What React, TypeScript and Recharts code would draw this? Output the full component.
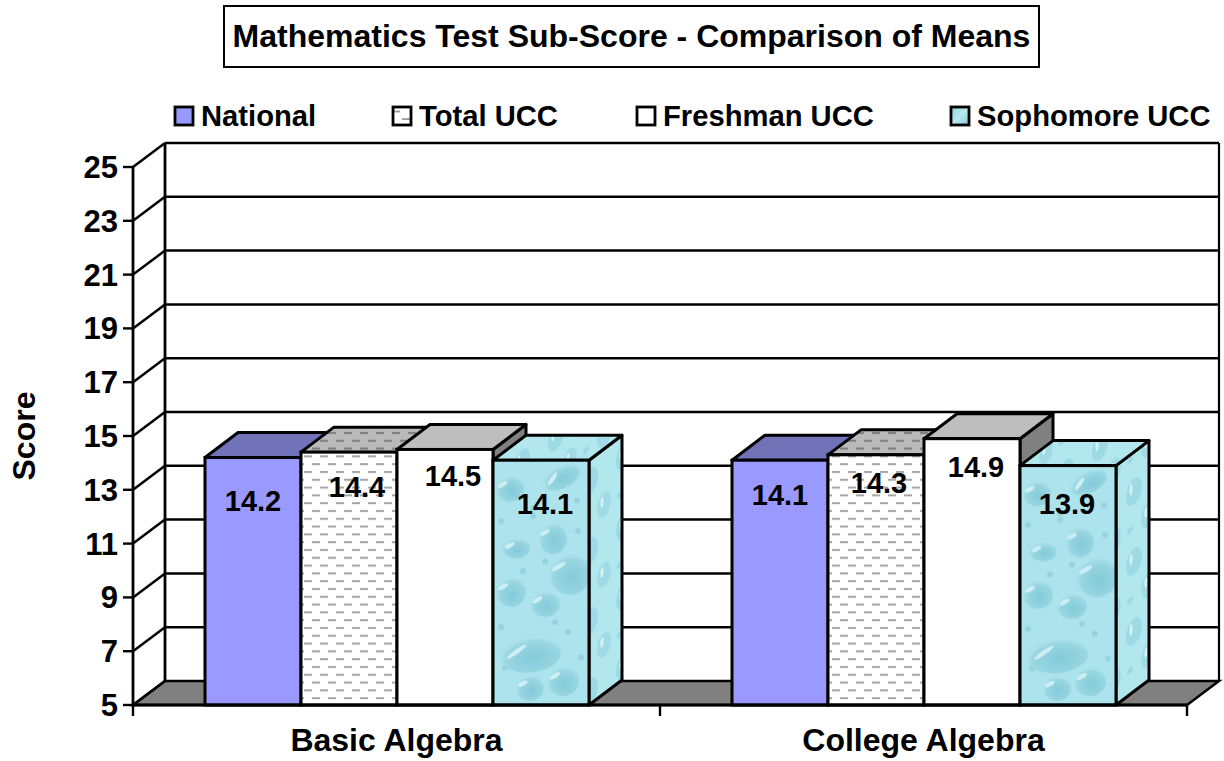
import React from 'react';
import { BarChart, Bar, XAxis, YAxis, Legend, LabelList, ReferenceArea, Label } from 'recharts';

const categories = ['Basic Algebra', 'College Algebra'];
const national = [14.2, 14.1];
const totalUcc = [14.4, 14.3];
const freshmanUcc = [14.5, 14.9];
const sophomoreUcc = [14.1, 13.9];
const yTicks = [5, 7, 9, 11, 13, 15, 17, 19, 21, 23, 25];
const chartTitle = 'Mathematics Test Sub-Score - Comparison of Means';
const data = categories.map((name, i) => ({
  name,
  National: national[i],
  'Total UCC': totalUcc[i],
  'Freshman UCC': freshmanUcc[i],
  'Sophomore UCC': sophomoreUcc[i],
}));

const FONT = '"Liberation Sans", Arial, sans-serif';
const WALL_DX = 32;
const WALL_DY = 24;
const BAR_DX = 33;
const BAR_DY = 25;

const series = [
  { key: 'National', front: '#9999FF', top: '#7272B9', side: '#7272B9', swatch: '#9999FF', nudge: [[0, 43], [0, 35]], legendX: 174, textX: 201 },
  { key: 'Total UCC', front: 'url(#dashFront)', top: 'url(#dashTop)', side: 'url(#dashTop)', swatch: 'url(#dashSwatch)', nudge: [[8, 35], [3, 28]], legendX: 392, textX: 419 },
  { key: 'Freshman UCC', front: '#FFFFFF', top: '#BEBEBE', side: '#808080', swatch: '#FFFFFF', nudge: [[8, 27], [4, 28]], legendX: 636, textX: 663 },
  { key: 'Sophomore UCC', front: 'url(#waterFront)', top: 'url(#waterSide)', side: 'url(#waterSide)', swatch: 'url(#waterSwatch)', nudge: [[4, 44], [-1, 38]], legendX: 950, textX: 977 },
];

const droplets = [
  [68, 17, 20, 11, -25], [17, 28, 14, 13, 0], [60, 77, 14, 16, 0], [23, 87, 14, 10, 0],
  [77, 112, 21, 21, 0], [18, 130, 15, 15, 0], [52, 142, 15, 13, 0], [37, 192, 31, 18, -5],
  [70, 218, 16, 15, 0], [37, 225, 14, 13, 0],
];
const specks = [[8, 60], [40, 55], [30, 110], [52, 100], [85, 70], [8, 165], [75, 170], [62, 160], [88, 195], [40, 48], [12, 205], [84, 40]];

function Defs() {
  return (
    <defs>
      <pattern id="dashFront" width="16" height="15.6" patternUnits="userSpaceOnUse">
        <rect width="16" height="15.6" fill="#FFFFFF" />
        <rect x="0" y="3" width="8" height="2" fill="#A4A4A4" />
        <rect x="8" y="10.8" width="8" height="2" fill="#A4A4A4" />
      </pattern>
      <pattern id="dashTop" width="16" height="15.6" patternUnits="userSpaceOnUse">
        <rect width="16" height="15.6" fill="#BABABA" />
        <rect x="0" y="3" width="8" height="2" fill="#7C7C7C" />
        <rect x="8" y="10.8" width="8" height="2" fill="#7C7C7C" />
      </pattern>
      <pattern id="dashSwatch" width="1" height="1" patternContentUnits="objectBoundingBox">
        <rect width="1" height="1" fill="#FFFFFF" />
        <rect x="0" y="0.2" width="0.4" height="0.1" fill="#999" />
        <rect x="0.5" y="0.62" width="0.5" height="0.1" fill="#999" />
      </pattern>
      <linearGradient id="waterSwatch" x1="0" y1="0" x2="1" y2="1">
        <stop offset="0" stopColor="#8FD2DF" />
        <stop offset="0.5" stopColor="#B8E8EE" />
        <stop offset="1" stopColor="#82CBDA" />
      </linearGradient>
      <radialGradient id="drop" cx="0.55" cy="0.6" r="0.62">
        <stop offset="0" stopColor="#84CAD9" />
        <stop offset="0.7" stopColor="#98D6E2" />
        <stop offset="1" stopColor="#B4E6EE" stopOpacity="0.2" />
      </radialGradient>
      <pattern id="waterFront" width="1" height="1" viewBox="0 0 96 242" preserveAspectRatio="none">
        <rect width="96" height="242" fill="#ACE3EC" />
        {specks.map(([x, y], i) => (
          <circle key={i} cx={x} cy={y} r={3} fill="#97D3DF" />
        ))}
        {droplets.map(([x, y, rx, ry, rot], i) => (
          <g key={i} transform={`translate(${x} ${y}) rotate(${rot})`}>
            <ellipse rx={rx} ry={ry} fill="url(#drop)" />
            <ellipse cx={-rx * 0.3} cy={-ry * 0.55} rx={rx * 0.38} ry={2.2} transform="rotate(-30)" fill="#CDEFF3" />
          </g>
        ))}
      </pattern>
      <pattern id="waterSide" width="34" height="70" patternUnits="userSpaceOnUse" patternTransform="skewY(-37)">
        <rect width="34" height="70" fill="#B2E7EE" />
        <ellipse cx="12" cy="16" rx="8" ry="13" fill="#9CDAE5" />
        <ellipse cx="9" cy="12" rx="1.6" ry="6" fill="#D4F2F5" />
        <ellipse cx="26" cy="50" rx="7" ry="12" fill="#A0DBE5" />
        <ellipse cx="24" cy="46" rx="1.6" ry="5" fill="#D4F2F5" />
        <circle cx="8" cy="52" r="3" fill="#9DD8E3" />
      </pattern>
    </defs>
  );
}

function Box3D(props: any, cfg: (typeof series)[number]) {
  const { x, y, width, height } = props;
  const sw = 3;
  const topPts = `${x},${y} ${x + BAR_DX},${y - BAR_DY} ${x + width + BAR_DX},${y - BAR_DY} ${x + width},${y}`;
  const sidePts = `${x + width},${y} ${x + width + BAR_DX},${y - BAR_DY} ${x + width + BAR_DX},${y + height - BAR_DY} ${x + width},${y + height}`;
  return (
    <g>
      <polygon points={sidePts} fill={cfg.side} stroke="#000" strokeWidth={sw} strokeLinejoin="round" />
      <polygon points={topPts} fill={cfg.top} stroke="#000" strokeWidth={sw} strokeLinejoin="round" />
      <rect x={x} y={y} width={width} height={height} fill={cfg.front} stroke="#000" strokeWidth={sw} />
    </g>
  );
}

function Walls(props: any) {
  const { x, y, width, height } = props;
  const bx = x + WALL_DX;
  const bottom = y + height;
  const band = width / categories.length;
  const lo = yTicks[0];
  const hi = yTicks[yTicks.length - 1];
  return (
    <g>
      <rect x={bx} y={y - WALL_DY} width={width} height={height} fill="#FFFFFF" stroke="none" />
      <polygon
        points={`${x},${bottom} ${bx},${bottom - WALL_DY} ${bx + width},${bottom - WALL_DY} ${x + width},${bottom}`}
        fill="#808080"
        stroke="#000"
        strokeWidth={2.5}
      />
      {yTicks.map((t) => {
        const py = bottom - ((t - lo) / (hi - lo)) * height;
        return (
          <g key={t}>
            <line x1={x} y1={py} x2={bx} y2={py - WALL_DY} stroke="#000" strokeWidth={2.5} />
            {t !== lo ? <line x1={bx} y1={py - WALL_DY} x2={bx + width} y2={py - WALL_DY} stroke="#000" strokeWidth={2.5} /> : null}
          </g>
        );
      })}
      <line x1={bx} y1={y - WALL_DY} x2={bx} y2={bottom - WALL_DY} stroke="#000" strokeWidth={2.8} />
      <line x1={bx + width} y1={y - WALL_DY} x2={bx + width} y2={bottom - WALL_DY} stroke="#000" strokeWidth={2.2} />
      {[0, 1, 2].map((i) => (
        <line key={i} x1={x + i * band} y1={bottom} x2={x + i * band} y2={bottom + 11} stroke="#000" strokeWidth={2.4} />
      ))}
    </g>
  );
}

function LegendRow() {
  return (
    <div style={{ position: 'relative', width: 0, height: 0 }}>
      {series.map((s) => (
        <React.Fragment key={s.key}>
          <svg style={{ position: 'absolute', left: s.legendX - 1, top: 105 }} width={22} height={22}>
            <rect x={2} y={2} width={18} height={18} fill={s.swatch} stroke="#000" strokeWidth={2.8} />
          </svg>
          <span
            style={{
              position: 'absolute',
              left: s.textX,
              top: 99,
              lineHeight: '34px',
              whiteSpace: 'nowrap',
              fontFamily: FONT,
              fontWeight: 700,
              fontSize: 29.2,
              color: '#000',
            }}
          >
            {s.key}
          </span>
        </React.Fragment>
      ))}
    </div>
  );
}

function barLabel(cfg: (typeof series)[number]) {
  return (props: any) => {
    const { x, y, width, value, index } = props;
    const [dx, dy] = cfg.nudge[index];
    return (
      <text
        x={x + width / 2 + dx}
        y={y + dy}
        textAnchor="middle"
        dominantBaseline="central"
        fontFamily={FONT}
        fontWeight={700}
        fontSize={29}
        fill="#000"
      >
        {Number(value).toFixed(1)}
      </text>
    );
  };
}

export default function App() {
  return (
    <div style={{ position: 'absolute', left: 0, top: 0, width: 1224, height: 761, background: '#fff' }}>
      <div
        style={{
          position: 'absolute',
          left: 223,
          top: 5,
          width: 813,
          height: 59,
          border: '2.5px solid #000',
          textAlign: 'center',
          lineHeight: '59px',
          fontFamily: FONT,
          fontWeight: 700,
          fontSize: 32,
          color: '#000',
          whiteSpace: 'nowrap',
        }}
      >
        {chartTitle}
      </div>
      <BarChart
        width={1224}
        height={761}
        data={data}
        margin={{ top: 167, right: 37, bottom: 0, left: 0 }}
        barGap={0}
        barSize={96}
      >
        <Defs />
        <ReferenceArea y1={5} y2={25} ifOverflow="visible" shape={Walls} fill="none" stroke="none" />
        <XAxis
          dataKey="name"
          height={56}
          tickLine={false}
          axisLine={{ stroke: '#000', strokeWidth: 2.8 }}
          tickMargin={17}
          tick={{ fontFamily: FONT, fontWeight: 700, fontSize: 32, fill: '#000' }}
        />
        <YAxis
          type="number"
          width={133}
          domain={[5, 25]}
          ticks={yTicks}
          interval={0}
          tickSize={10}
          tickMargin={5}
          axisLine={{ stroke: '#000', strokeWidth: 2.8 }}
          tickLine={{ stroke: '#000', strokeWidth: 2.4 }}
          tick={{ fontFamily: FONT, fontWeight: 700, fontSize: 31, fill: '#000' }}
        >
          <Label
            value="Score"
            angle={-90}
            position="insideLeft"
            offset={0}
            dx={24}
            style={{ fontFamily: FONT, fontWeight: 700, fontSize: 32, fill: '#000', textAnchor: 'middle' }}
          />
        </YAxis>
        {series.map((s) => (
          <Bar key={s.key} dataKey={s.key} isAnimationActive={false} shape={(p: any) => Box3D(p, s)}>
            <LabelList dataKey={s.key} content={barLabel(s)} />
          </Bar>
        ))}
        <Legend
          verticalAlign="top"
          content={() => <LegendRow />}
          wrapperStyle={{ position: 'absolute', left: 0, top: 0, width: 0, height: 0 }}
        />
      </BarChart>
    </div>
  );
}
